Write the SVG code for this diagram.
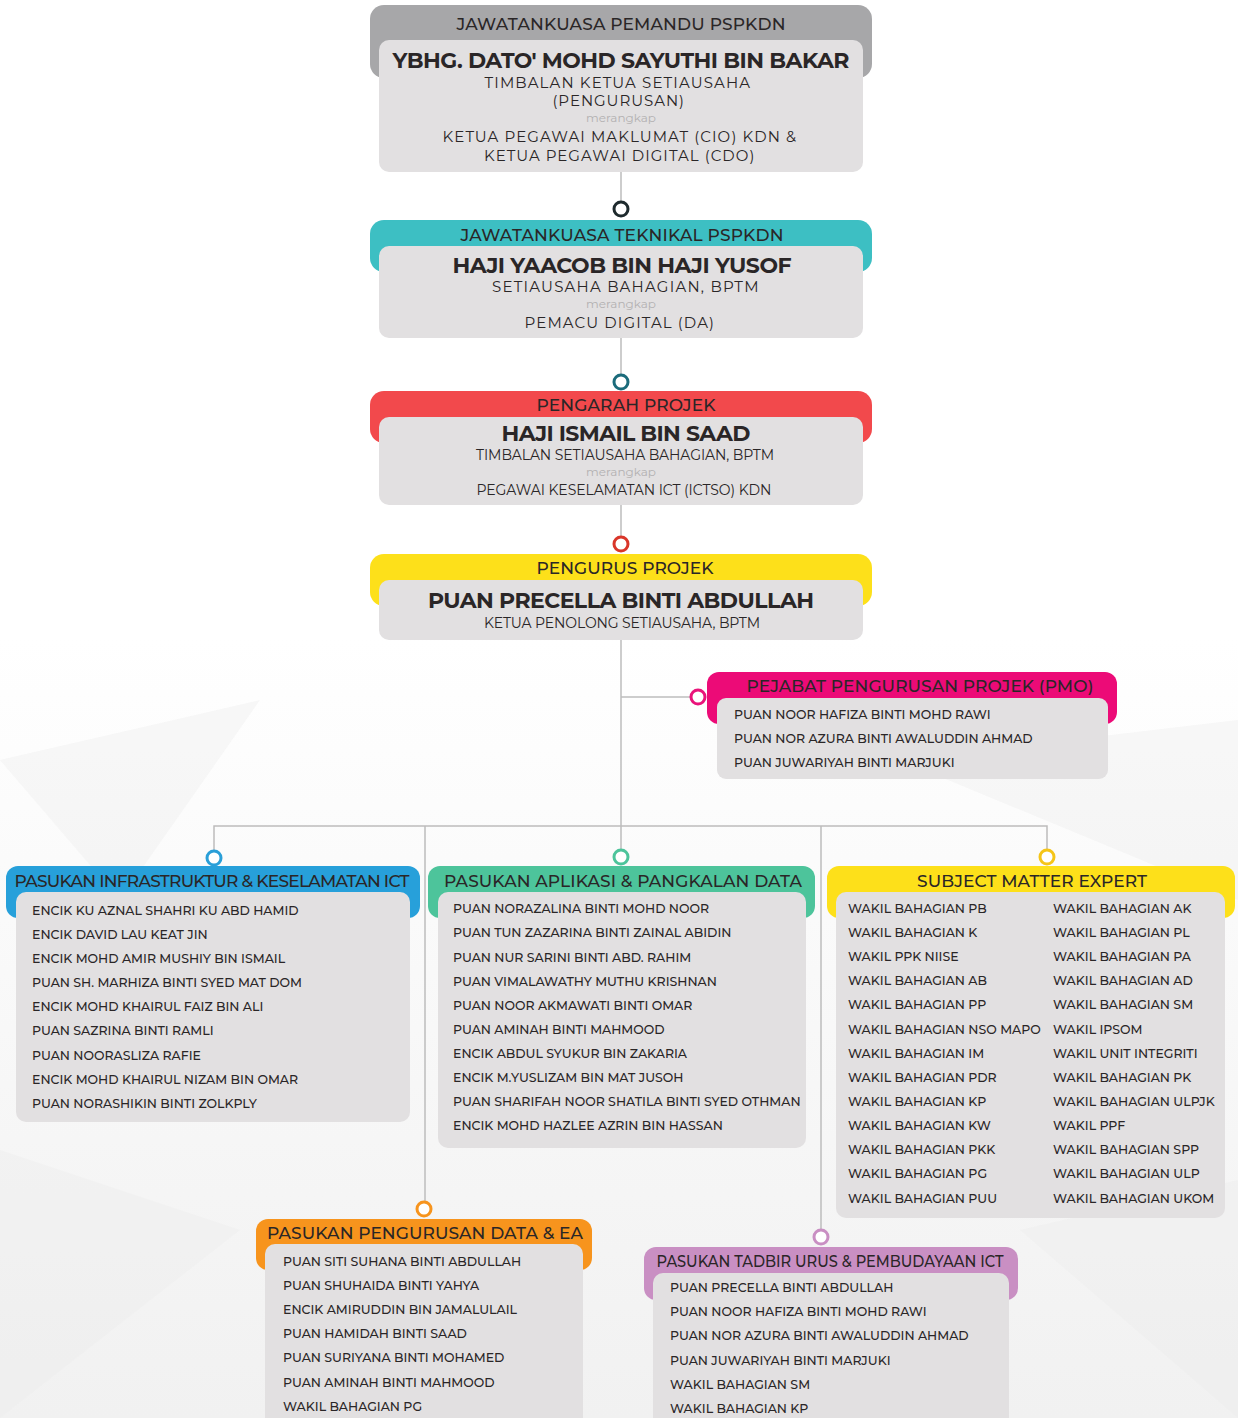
<svg xmlns="http://www.w3.org/2000/svg" width="1238" height="1418" viewBox="0 0 1238 1418">
<defs>
<linearGradient id="bg" x1="0" y1="0" x2="0" y2="1">
<stop offset="0" stop-color="#ffffff"/>
<stop offset="0.45" stop-color="#ffffff"/>
<stop offset="1" stop-color="#f1f1f1"/>
</linearGradient>
<style>
text{font-family:Montserrat,Inter,"Open Sans",sans-serif;fill:#2a2627}
.hd{font-size:17px;font-weight:500;text-anchor:middle}
.nm{font-size:22px;font-weight:700;text-anchor:middle}
.sub{font-size:15px;text-anchor:middle;letter-spacing:1.5px}
.sub2{font-size:14px;text-anchor:middle}
.mer{font-size:12px;fill:#b3b1b2;text-anchor:middle}
.it{font-size:12.5px;font-weight:500}
.card{fill:#e2e0e1}
.ln{stroke:#bdbcbc;stroke-width:1.5;fill:none}
.dot{fill:#fff;stroke-width:3}
</style>
</defs>
<rect width="1238" height="1418" fill="url(#bg)"/>
<g opacity="0.35" fill="#ececec">
<polygon points="0,760 260,700 120,900"/>
<polygon points="900,760 1238,720 1238,900"/>
<polygon points="0,1150 240,1230 0,1418"/>
<polygon points="1020,1230 1238,1180 1238,1418"/>
</g>

<g id="connectors">
<line class="ln" x1="621" y1="172" x2="621" y2="202"/>
<line class="ln" x1="621" y1="338" x2="621" y2="375"/>
<line class="ln" x1="621" y1="505" x2="621" y2="537"/>
<line class="ln" x1="621" y1="640" x2="621" y2="850"/>
<line class="ln" x1="621" y1="697" x2="691" y2="697"/>
<polyline class="ln" points="214,851 214,826 1047,826 1047,850"/>
<line class="ln" x1="425" y1="826" x2="425" y2="1202"/>
<line class="ln" x1="821" y1="826" x2="821" y2="1230"/>
<circle class="dot" cx="621" cy="209" r="7" stroke="#1e2a2d"/>
<circle class="dot" cx="621" cy="382" r="7" stroke="#1b6b7b"/>
<circle class="dot" cx="621" cy="544" r="7" stroke="#d9362a"/>
<circle class="dot" cx="698" cy="697" r="7" stroke="#e9137a"/>
<circle class="dot" cx="214" cy="858" r="7" stroke="#2a9fd8"/>
<circle class="dot" cx="621" cy="857" r="7" stroke="#4dc49b"/>
<circle class="dot" cx="1047" cy="857" r="7" stroke="#f5c518"/>
<circle class="dot" cx="424" cy="1209" r="7" stroke="#f7941d"/>
<circle class="dot" cx="821" cy="1237" r="7" stroke="#c98fc3"/>
</g>

<g id="pemandu">
<rect x="370" y="5" width="502" height="73" rx="14" fill="#a7a7a9"/>
<rect class="card" x="379" y="40" width="484" height="132" rx="10"/>
<text class="hd" x="621" y="30" textLength="329">JAWATANKUASA PEMANDU PSPKDN</text>
<text class="nm" x="621" y="68" textLength="457">YBHG. DATO' MOHD SAYUTHI BIN BAKAR</text>
<text class="sub" x="618" y="88" textLength="267">TIMBALAN KETUA SETIAUSAHA</text>
<text class="sub" x="619" y="106" textLength="133">(PENGURUSAN)</text>
<text class="mer" x="621" y="122">merangkap</text>
<text class="sub" x="620" y="142" textLength="355">KETUA PEGAWAI MAKLUMAT (CIO) KDN &amp;</text>
<text class="sub" x="620" y="161" textLength="272">KETUA PEGAWAI DIGITAL (CDO)</text>
</g>

<g id="teknikal">
<rect x="370" y="220" width="502" height="52" rx="14" fill="#3dbfc3"/>
<rect class="card" x="379" y="246" width="484" height="92" rx="10"/>
<text class="hd" x="622" y="241" textLength="323">JAWATANKUASA TEKNIKAL PSPKDN</text>
<text class="nm" x="622" y="273" textLength="339">HAJI YAACOB BIN HAJI YUSOF</text>
<text class="sub" x="626" y="292" textLength="268">SETIAUSAHA BAHAGIAN, BPTM</text>
<text class="mer" x="621" y="308">merangkap</text>
<text class="sub" x="620" y="328" textLength="191">PEMACU DIGITAL (DA)</text>
</g>

<g id="pengarah">
<rect x="370" y="391" width="502" height="52" rx="14" fill="#f2494c"/>
<rect class="card" x="379" y="417" width="484" height="88" rx="10"/>
<text class="hd" x="626" y="411" textLength="179">PENGARAH PROJEK</text>
<text class="nm" x="626" y="441" textLength="249">HAJI ISMAIL BIN SAAD</text>
<text class="sub2" x="625" y="460" textLength="298">TIMBALAN SETIAUSAHA BAHAGIAN, BPTM</text>
<text class="mer" x="621" y="476">merangkap</text>
<text class="sub2" x="624" y="495" textLength="295">PEGAWAI KESELAMATAN ICT (ICTSO) KDN</text>
</g>

<g id="pengurus">
<rect x="370" y="554" width="502" height="52" rx="14" fill="#fde01a"/>
<rect class="card" x="379" y="580" width="484" height="60" rx="10"/>
<text class="hd" x="625" y="574" textLength="177">PENGURUS PROJEK</text>
<text class="nm" x="621" y="608" textLength="386">PUAN PRECELLA BINTI ABDULLAH</text>
<text class="sub2" x="622" y="628" textLength="276">KETUA PENOLONG SETIAUSAHA, BPTM</text>
</g>

<g id="pmo">
<rect x="707" y="672" width="410" height="52" rx="12" fill="#ec0b77"/>
<rect class="card" x="717" y="698" width="391" height="81" rx="9"/>
<text class="hd" x="920" y="692" textLength="347">PEJABAT PENGURUSAN PROJEK (PMO)</text>
<text class="it" x="734" y="719">PUAN NOOR HAFIZA BINTI MOHD RAWI</text>
<text class="it" x="734" y="743">PUAN NOR AZURA BINTI AWALUDDIN AHMAD</text>
<text class="it" x="734" y="767">PUAN JUWARIYAH BINTI MARJUKI</text>
</g>

<g id="infrastruktur">
<rect x="6" y="866" width="414" height="52" rx="12" fill="#27a0da"/>
<rect class="card" x="16" y="892" width="394" height="230" rx="10"/>
<text class="hd" x="212" y="887" textLength="395">PASUKAN INFRASTRUKTUR &amp; KESELAMATAN ICT</text>
<text class="it" x="32" y="915">ENCIK KU AZNAL SHAHRI KU ABD HAMID</text>
<text class="it" x="32" y="939">ENCIK DAVID LAU KEAT JIN</text>
<text class="it" x="32" y="963">ENCIK MOHD AMIR MUSHIY BIN ISMAIL</text>
<text class="it" x="32" y="987">PUAN SH. MARHIZA BINTI SYED MAT DOM</text>
<text class="it" x="32" y="1011">ENCIK MOHD KHAIRUL FAIZ BIN ALI</text>
<text class="it" x="32" y="1035">PUAN SAZRINA BINTI RAMLI</text>
<text class="it" x="32" y="1060">PUAN NOORASLIZA RAFIE</text>
<text class="it" x="32" y="1084">ENCIK MOHD KHAIRUL NIZAM BIN OMAR</text>
<text class="it" x="32" y="1108">PUAN NORASHIKIN BINTI ZOLKPLY</text>
</g>

<g id="aplikasi">
<rect x="428" y="866" width="387" height="52" rx="12" fill="#4dc49b"/>
<rect class="card" x="438" y="892" width="368" height="256" rx="10"/>
<text class="hd" x="623" y="887" textLength="358">PASUKAN APLIKASI &amp; PANGKALAN DATA</text>
<text class="it" x="453" y="913">PUAN NORAZALINA BINTI MOHD NOOR</text>
<text class="it" x="453" y="937">PUAN TUN ZAZARINA BINTI ZAINAL ABIDIN</text>
<text class="it" x="453" y="962">PUAN NUR SARINI BINTI ABD. RAHIM</text>
<text class="it" x="453" y="986">PUAN VIMALAWATHY MUTHU KRISHNAN</text>
<text class="it" x="453" y="1010">PUAN NOOR AKMAWATI BINTI OMAR</text>
<text class="it" x="453" y="1034">PUAN AMINAH BINTI MAHMOOD</text>
<text class="it" x="453" y="1058">ENCIK ABDUL SYUKUR BIN ZAKARIA</text>
<text class="it" x="453" y="1082">ENCIK M.YUSLIZAM BIN MAT JUSOH</text>
<text class="it" x="453" y="1106">PUAN SHARIFAH NOOR SHATILA BINTI SYED OTHMAN</text>
<text class="it" x="453" y="1130">ENCIK MOHD HAZLEE AZRIN BIN HASSAN</text>
</g>

<g id="sme">
<rect x="827" y="866" width="408" height="52" rx="12" fill="#fde01a"/>
<rect class="card" x="836" y="892" width="389" height="326" rx="10"/>
<text class="hd" x="1032" y="887" textLength="230">SUBJECT MATTER EXPERT</text>
<text class="it" x="848" y="913">WAKIL BAHAGIAN PB</text>
<text class="it" x="848" y="937">WAKIL BAHAGIAN K</text>
<text class="it" x="848" y="961">WAKIL PPK NIISE</text>
<text class="it" x="848" y="985">WAKIL BAHAGIAN AB</text>
<text class="it" x="848" y="1009">WAKIL BAHAGIAN PP</text>
<text class="it" x="848" y="1034">WAKIL BAHAGIAN NSO MAPO</text>
<text class="it" x="848" y="1058">WAKIL BAHAGIAN IM</text>
<text class="it" x="848" y="1082">WAKIL BAHAGIAN PDR</text>
<text class="it" x="848" y="1106">WAKIL BAHAGIAN KP</text>
<text class="it" x="848" y="1130">WAKIL BAHAGIAN KW</text>
<text class="it" x="848" y="1154">WAKIL BAHAGIAN PKK</text>
<text class="it" x="848" y="1178">WAKIL BAHAGIAN PG</text>
<text class="it" x="848" y="1203">WAKIL BAHAGIAN PUU</text>
<text class="it" x="1053" y="913">WAKIL BAHAGIAN AK</text>
<text class="it" x="1053" y="937">WAKIL BAHAGIAN PL</text>
<text class="it" x="1053" y="961">WAKIL BAHAGIAN PA</text>
<text class="it" x="1053" y="985">WAKIL BAHAGIAN AD</text>
<text class="it" x="1053" y="1009">WAKIL BAHAGIAN SM</text>
<text class="it" x="1053" y="1034">WAKIL IPSOM</text>
<text class="it" x="1053" y="1058">WAKIL UNIT INTEGRITI</text>
<text class="it" x="1053" y="1082">WAKIL BAHAGIAN PK</text>
<text class="it" x="1053" y="1106">WAKIL BAHAGIAN ULPJK</text>
<text class="it" x="1053" y="1130">WAKIL PPF</text>
<text class="it" x="1053" y="1154">WAKIL BAHAGIAN SPP</text>
<text class="it" x="1053" y="1178">WAKIL BAHAGIAN ULP</text>
<text class="it" x="1053" y="1203">WAKIL BAHAGIAN UKOM</text>
</g>

<g id="pengurusan-data">
<rect x="256" y="1219" width="336" height="51" rx="12" fill="#f7941d"/>
<rect class="card" x="265" y="1244" width="318" height="190" rx="10"/>
<text class="hd" x="425" y="1239" textLength="316">PASUKAN PENGURUSAN DATA &amp; EA</text>
<text class="it" x="283" y="1266">PUAN SITI SUHANA BINTI ABDULLAH</text>
<text class="it" x="283" y="1290">PUAN SHUHAIDA BINTI YAHYA</text>
<text class="it" x="283" y="1314">ENCIK AMIRUDDIN BIN JAMALULAIL</text>
<text class="it" x="283" y="1338">PUAN HAMIDAH BINTI SAAD</text>
<text class="it" x="283" y="1362">PUAN SURIYANA BINTI MOHAMED</text>
<text class="it" x="283" y="1387">PUAN AMINAH BINTI MAHMOOD</text>
<text class="it" x="283" y="1411">WAKIL BAHAGIAN PG</text>
</g>

<g id="tadbir-urus">
<rect x="644" y="1247" width="374" height="53" rx="12" fill="#c98fc3"/>
<rect class="card" x="653" y="1273" width="356" height="160" rx="10"/>
<text class="hd" x="830" y="1267" textLength="347" lengthAdjust="spacingAndGlyphs">PASUKAN TADBIR URUS &amp; PEMBUDAYAAN ICT</text>
<text class="it" x="670" y="1292">PUAN PRECELLA BINTI ABDULLAH</text>
<text class="it" x="670" y="1316">PUAN NOOR HAFIZA BINTI MOHD RAWI</text>
<text class="it" x="670" y="1340">PUAN NOR AZURA BINTI AWALUDDIN AHMAD</text>
<text class="it" x="670" y="1365">PUAN JUWARIYAH BINTI MARJUKI</text>
<text class="it" x="670" y="1389">WAKIL BAHAGIAN SM</text>
<text class="it" x="670" y="1413">WAKIL BAHAGIAN KP</text>
</g>
</svg>
